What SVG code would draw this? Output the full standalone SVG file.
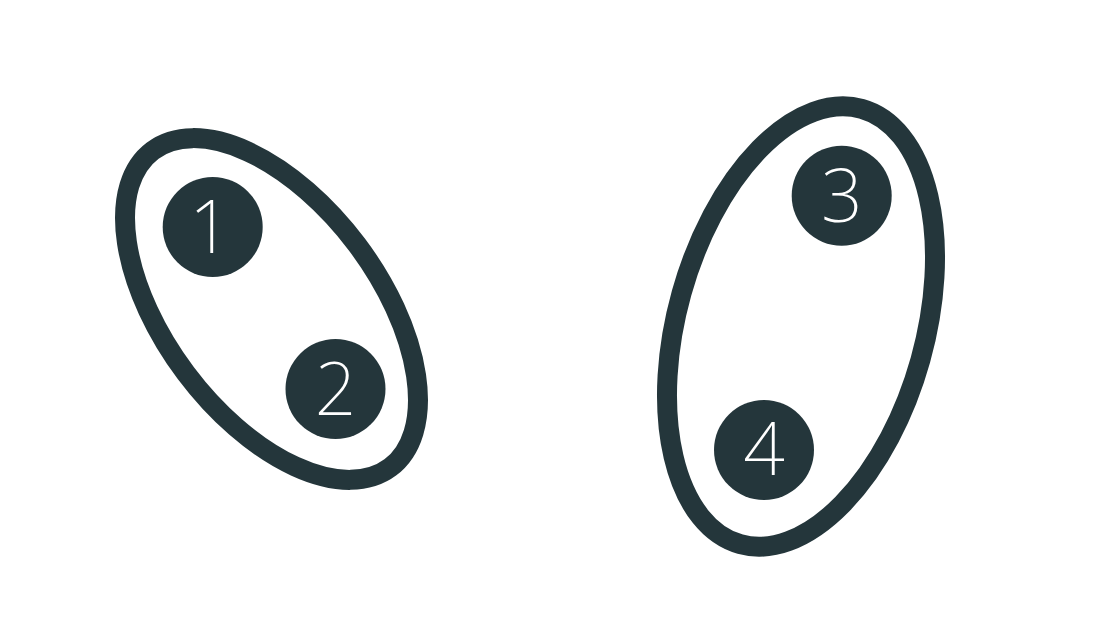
<svg xmlns="http://www.w3.org/2000/svg" width="1120" height="617" viewBox="0 0 1120 617">
<style>
.grp{fill:none;stroke:#24363b;stroke-width:20}
.node circle{fill:#24363b}
.node text{fill:#ffffff;font-family:"Noto Sans","Liberation Sans",sans-serif;font-weight:200;font-size:73px;text-anchor:middle}
</style>
<rect width="1120" height="617" fill="#ffffff"/>
<g id="connectors"></g>
<g id="group-a"><ellipse class="grp" cx="271.5" cy="309" rx="198" ry="107" transform="rotate(53.1 271.5 309)"/></g>
<g id="group-b"><ellipse class="grp" cx="801" cy="326.5" rx="226" ry="124" transform="rotate(-74.4 801 326.5)"/></g>
<g id="node1" class="node"><circle cx="212.7" cy="227" r="50"/><text x="210" y="253">1</text></g>
<g id="node2" class="node"><circle cx="335.5" cy="389" r="50"/><text x="335.5" y="415">2</text></g>
<g id="node3" class="node"><circle cx="841.7" cy="195.7" r="50"/><text x="841.7" y="222">3</text></g>
<g id="node4" class="node"><circle cx="764" cy="450" r="50"/><text x="764" y="475">4</text></g>
</svg>
